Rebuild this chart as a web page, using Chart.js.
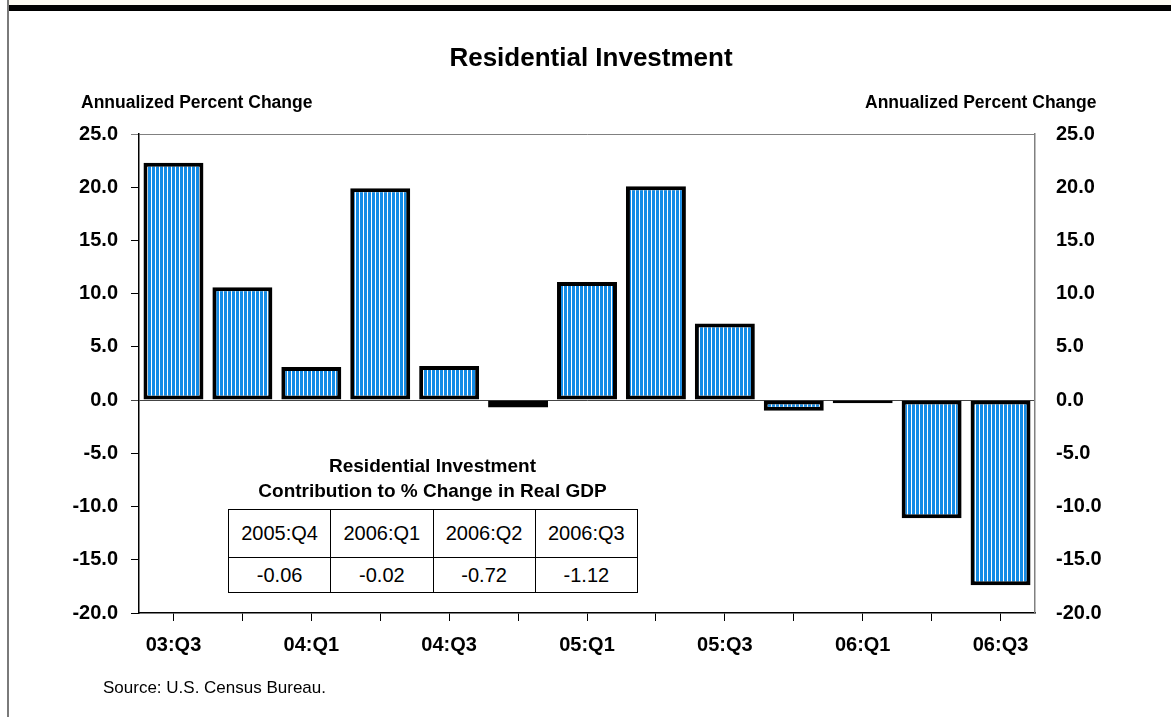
<!DOCTYPE html>
<html>
<head>
<meta charset="utf-8">
<script src="https://cdn.jsdelivr.net/npm/chart.js@4/dist/chart.umd.min.js"></script>
<style>
  body { margin: 0; background: #fff; font-family: "Liberation Sans", Arial, sans-serif; }
  #wrap { position: relative; width: 1171px; height: 717px; overflow: hidden; background: #fff; }
  #chart { position: absolute; left: 0; top: 0; }
  .band { position: absolute; left: 9px; top: 0; right: 0; height: 5px; background: #fbf9f1; }
  .rule { position: absolute; left: 7px; top: 5px; right: 0; height: 6px; background: #000; }
  .edge { position: absolute; left: 7px; top: 0; width: 2px; bottom: 0; background: #7a7a7a; }
  .txt { position: absolute; white-space: nowrap; color: #000; }
  .title { font-weight: bold; font-size: 26px; line-height: 26px; top: 44px; left: 0; width: 1182px; text-align: center; }
  .axt { font-weight: bold; font-size: 17.5px; line-height: 17.5px; top: 94px; }
  .inset { font-weight: bold; font-size: 19px; line-height: 25px; top: 453px; left: 228px; width: 409px; text-align: center; }
  table.contrib { position: absolute; left: 228px; top: 509px; width: 410px; border-collapse: collapse;
    font-size: 20px; text-align: center; background: #fff; }
  table.contrib td { border: 1px solid #000; padding: 0; width: 25%; }
  table.contrib tr.hd td { height: 47px; }
  table.contrib tr.vl td { height: 34px; }
  .source { font-size: 17px; line-height: 17px; top: 679px; left: 103px; }
</style>
</head>
<body>
<div id="wrap">
  <div class="band"></div>
  <div class="rule"></div>
  <div class="edge"></div>
  <canvas id="chart" width="1171" height="717"></canvas>
  <div class="txt title">Residential Investment</div>
  <div class="txt axt" style="left:81px">Annualized Percent Change</div>
  <div class="txt axt" style="left:865px">Annualized Percent Change</div>
  <div class="txt inset">Residential Investment<br>Contribution to % Change in Real GDP</div>
  <table class="contrib" id="contrib"></table>
  <div class="txt source">Source: U.S. Census Bureau.</div>
</div>
<script>
// quarterly annualized % change in residential investment
const quarters = ['03:Q3', '03:Q4', '04:Q1', '04:Q2', '04:Q3', '04:Q4', '05:Q1',
                  '05:Q2', '05:Q3', '05:Q4', '06:Q1', '06:Q2', '06:Q3'];
const pctChange = [22.3, 10.6, 3.1, 19.9, 3.2, -0.7, 11.1, 20.1, 7.2, -1.0, -0.3, -11.1, -17.4];
const yTicks = [25, 20, 15, 10, 5, 0, -5, -10, -15, -20];

// inset table: contribution to real GDP growth
const contribQuarters = ['2005:Q4', '2006:Q1', '2006:Q2', '2006:Q3'];
const contribValues = ['-0.06', '-0.02', '-0.72', '-1.12'];

const tbl = document.getElementById('contrib');
tbl.innerHTML =
  '<tr class="hd">' + contribQuarters.map(q => '<td>' + q + '</td>').join('') + '</tr>' +
  '<tr class="vl">' + contribValues.map(v => '<td>' + v + '</td>').join('') + '</tr>';

// striped fill for the bars
function stripes() {
  const c = document.createElement('canvas');
  c.width = 4; c.height = 4;
  const g = c.getContext('2d');
  g.fillStyle = '#ffffff';
  g.fillRect(0, 0, 4, 4);
  g.fillStyle = '#138be6';
  g.fillRect(0, 0, 3, 4);
  return g.createPattern(c, 'repeat');
}

const W = 1171, H = 717;
const plotL = 139, plotR = 1035, plotB = 613;
const tickFont = { family: '"Liberation Sans", Arial, sans-serif', size: 20, weight: 'bold' };

new Chart(document.getElementById('chart').getContext('2d'), {
  type: 'bar',
  data: {
    labels: quarters,
    datasets: [{
      data: pctChange,
      backgroundColor: stripes(),
      borderColor: '#000',
      borderWidth: 4,
      borderSkipped: false,
      barPercentage: 0.87,
      categoryPercentage: 1.0,
      yAxisID: 'y'
    }]
  },
  options: {
    responsive: false,
    animation: false,
    layout: { padding: { top: 134, left: 0, right: 0, bottom: 0 } },
    plugins: { legend: { display: false }, tooltip: { enabled: false }, title: { display: false } },
    scales: {
      x: {
        grid: { offset: false, drawOnChartArea: false, tickLength: 8, color: '#000' },
        border: { color: '#000', width: 1.5 },
        ticks: {
          autoSkip: false, maxRotation: 0, padding: 12, color: '#000', font: tickFont,
          callback: function (v, i) { return i % 2 === 0 ? this.getLabelForValue(v) : ''; }
        },
        afterFit: s => { s.height = H - plotB; }
      },
      y: {
        position: 'left', min: -20, max: 25,
        afterBuildTicks: s => { s.ticks = yTicks.map(v => ({ value: v })); },
        grid: {
          tickLength: 8,
          color: c => c.tick && c.tick.value === 0 ? '#444' : (c.tick && c.tick.value === 25 ? '#808080' : 'rgba(0,0,0,0)'),
          tickColor: c => c.tick && c.tick.value === 25 ? '#808080' : (c.tick && c.tick.value === 0 ? '#444' : '#000')
        },
        border: { color: '#000', width: 1.5 },
        ticks: { padding: 13, color: '#000', font: tickFont, callback: v => v.toFixed(1) },
        afterFit: s => { s.width = plotL; }
      },
      y2: {
        position: 'right', min: -20, max: 25,
        afterBuildTicks: s => { s.ticks = yTicks.map(v => ({ value: v })); },
        grid: { drawOnChartArea: false, drawTicks: false },
        border: { color: '#808080', width: 1.5 },
        ticks: { padding: 21, color: '#000', font: tickFont, callback: v => v.toFixed(1) },
        afterFit: s => { s.width = W - plotR; }
      }
    }
  }
});
</script>
</body>
</html>
